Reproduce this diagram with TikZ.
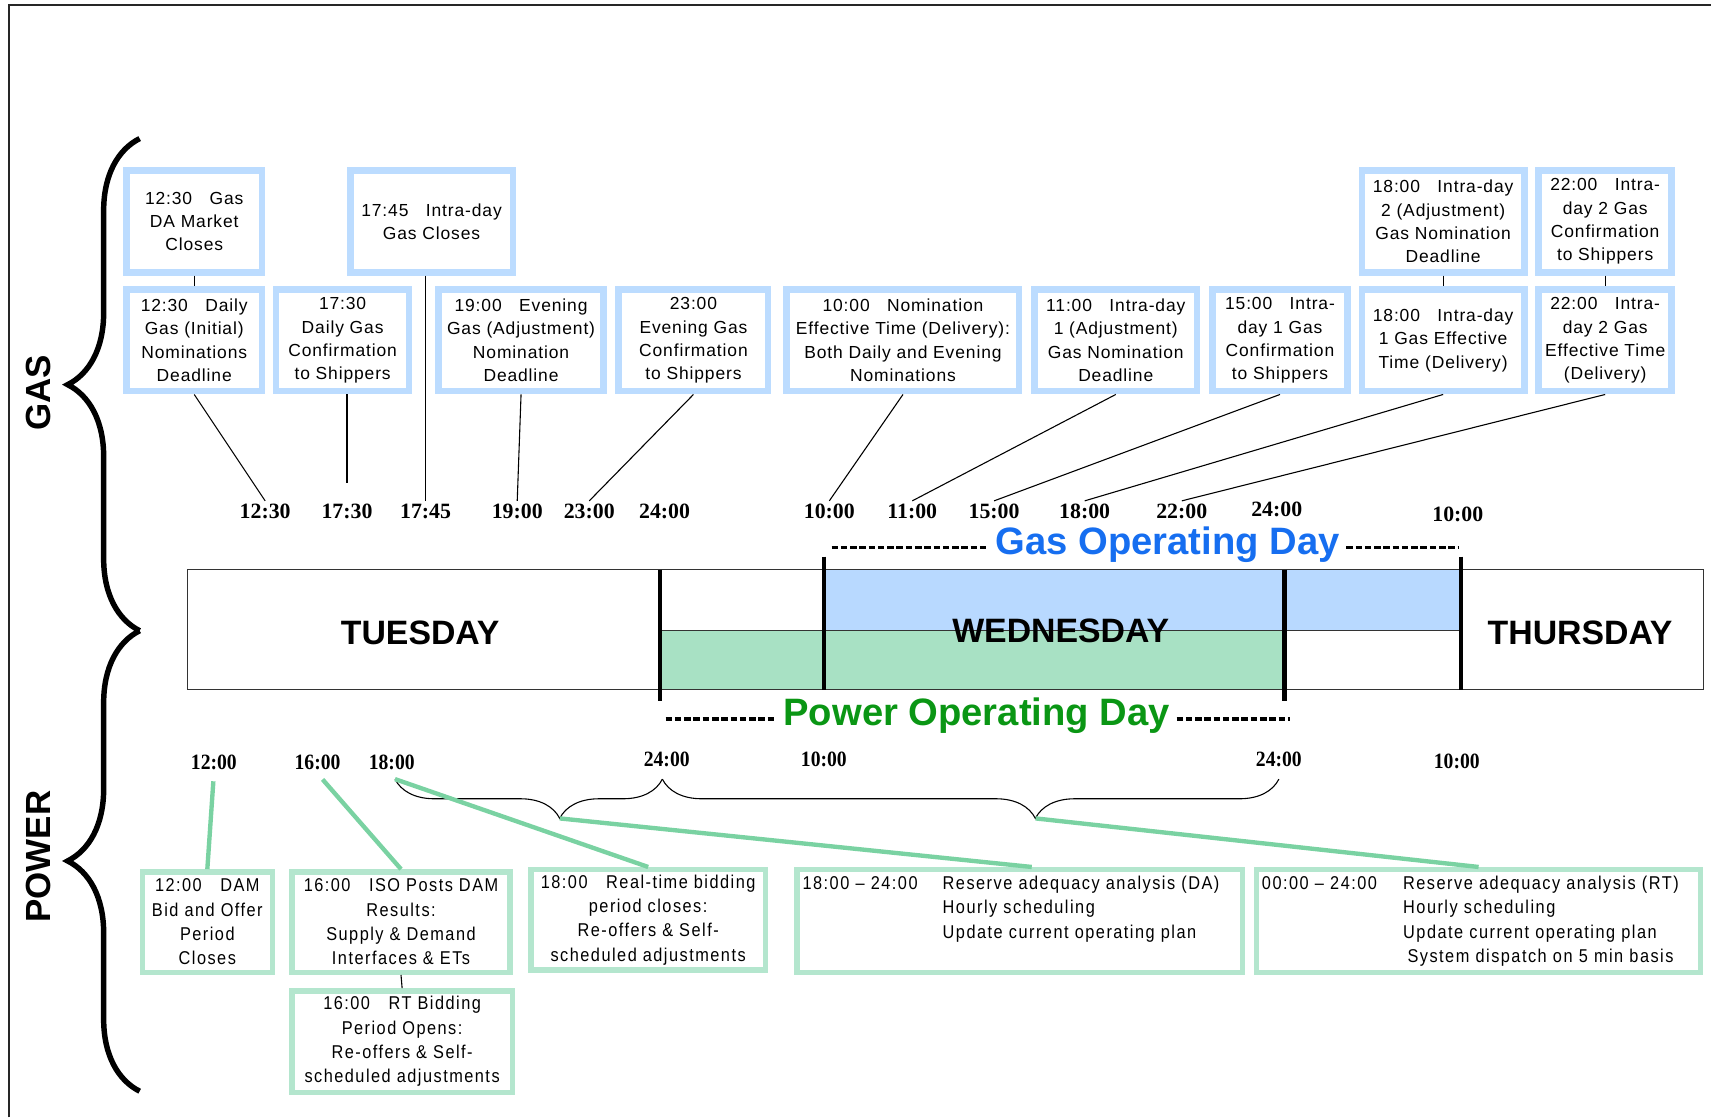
\documentclass[tikz,border=0pt]{standalone}
\usepackage{fontspec}
\setmainfont{Liberation Sans}
\newfontfamily\boxfont{Liberation Sans}[LetterSpace=5]
\newfontfamily\pwrfont{Liberation Sans}[FakeStretch=0.88,LetterSpace=8]
\newfontfamily\timefont{Liberation Serif}
\newfontfamily\ptimefont{Liberation Serif}[FakeStretch=0.9]
\usetikzlibrary{calc,positioning,decorations.pathreplacing}

\definecolor{gasblue}{RGB}{188,220,255}
\definecolor{barblue}{RGB}{184,217,255}
\definecolor{pwrgreen}{RGB}{180,230,206}
\definecolor{bargreen}{RGB}{168,225,196}
\definecolor{pwrline}{RGB}{122,210,162}
\definecolor{gastext}{RGB}{22,110,240}
\definecolor{pwrtext}{RGB}{10,150,20}

\tikzset{
  gasbox/.style={draw=gasblue, line width=6pt, align=center, inner sep=2pt,
    minimum width=#1, minimum height=93pt,
    font=\boxfont\fontsize{16}{21.5}\selectfont},
  pwrbox/.style={draw=pwrgreen, line width=5pt, align=center, inner sep=2pt,
    minimum width=#1, minimum height=92pt,
    font=\pwrfont\fontsize{17}{22.3}\selectfont},
  gastime/.style={inner sep=3pt, font=\timefont\bfseries\fontsize{20}{20}\selectfont},
  pwrtime/.style={inner sep=3pt, font=\ptimefont\bfseries\fontsize{20}{20}\selectfont},
  gasline/.style={line width=1pt, black},
  pwrlink/.style={line width=4pt, pwrline},
  dayline/.style={line width=4pt, black},
  opdash/.style={line width=3pt, dash pattern=on 6pt off 2.5pt},
  bigbrace/.style={decorate, decoration={brace, amplitude=66pt}, line width=5pt},
  smallbrace/.style={decorate, decoration={brace, mirror, amplitude=36pt, aspect=#1}, line width=1pt},
  dayname/.style={font=\bfseries\fontsize{31}{31}\selectfont},
  sidename/.style={rotate=90, font=\bfseries\fontsize{32}{32}\selectfont},
}

\begin{document}
\begin{tikzpicture}[x=1pt, y=-1pt]
    \useasboundingbox (0,0) rectangle (1568,1024);
    \draw[line width=1.8pt, black!85] (8,1024) -- (8,5) -- (1568,5);

    % gas / power braces
    \coordinate (gastop) at (128,127);
    \coordinate (mid) at (128,578);
    \coordinate (pwrbot) at (128,1000);
    \draw[bigbrace] (mid) -- (gastop);
    \draw[bigbrace] (pwrbot) -- (mid);
    \node[sidename] (gaslbl) at (35,360) {GAS};
    \node[sidename] (pwrlbl) at (35,785) {POWER};

    % day bar
    \fill[barblue] (755,522) rectangle (1339,578);
    \fill[bargreen] (605,578) rectangle (1177,632);
    \draw[line width=1.2pt, black!80] (172,522) rectangle (1561,632);
    \draw[line width=1.2pt, black!80] (605,578) -- (1339,578);
    \draw[dayline] (605,522) -- (605,642);
    \draw[dayline] (755,510) -- (755,632);
    \draw[dayline] (1177,522) -- (1177,642);
    \draw[dayline] (1339,510) -- (1339,632);
    \node[dayname] (tue) at (385,580) {TUESDAY};
    \node[dayname] (wed) at (972,578) {WEDNESDAY};
    \node[dayname] (thu) at (1448,580) {THURSDAY};

    % operating days
    \node[inner sep=6pt, text=gastext, font=\bfseries\fontsize{35}{35}\selectfont] (gasday) at (1070,499) {Gas Operating Day};
    \node[inner sep=6pt, text=pwrtext, font=\bfseries\fontsize{35}{35}\selectfont] (pwrday) at (895,656) {Power Operating Day};
    \coordinate (gdl) at (762,502);
    \coordinate (gdr) at (1337,502);
    \coordinate (pdl) at (610,659);
    \coordinate (pdr) at (1182,659);
    \draw[opdash] (gdl) -- (gasday.west |- gdl);
    \draw[opdash] (gasday.east |- gdr) -- (gdr);
    \draw[opdash] (pdl) -- (pwrday.west |- pdl);
    \draw[opdash] (pwrday.east |- pdr) -- (pdr);

    % gas events
    \node[gasbox=124pt] (ga) at (178,203) {12:30\quad Gas\\DA Market\\Closes};
    \node[gasbox=149pt] (gb) at (395.5,203) {17:45\quad Intra-day\\Gas Closes};
    \node[gasbox=149pt] (gc) at (1322.5,203) {18:00\quad Intra-day\\2 (Adjustment)\\Gas Nomination\\Deadline};
    \node[gasbox=122pt] (gd) at (1471,203) {22:00\quad Intra-\\day 2 Gas\\Confirmation\\to Shippers};
    \node[gasbox=124pt] (g1) at (178,312) {12:30\quad Daily\\Gas (Initial)\\Nominations\\Deadline};
    \node[gasbox=122pt] (g2) at (314,312) {17:30\\Daily Gas\\Confirmation\\to Shippers};
    \node[gasbox=151pt] (g3) at (477.5,312) {19:00\quad Evening\\Gas (Adjustment)\\Nomination\\Deadline};
    \node[gasbox=137pt] (g4) at (635.5,312) {23:00\\Evening Gas\\Confirmation\\to Shippers};
    \node[gasbox=213pt] (g5) at (827.5,312) {10:00\quad Nomination\\Effective Time (Delivery):\\Both Daily and Evening\\Nominations};
    \node[gasbox=149pt] (g6) at (1022.5,312) {11:00\quad Intra-day\\1 (Adjustment)\\Gas Nomination\\Deadline};
    \node[gasbox=124pt] (g7) at (1173,312) {15:00\quad Intra-\\day 1 Gas\\Confirmation\\to Shippers};
    \node[gasbox=149pt] (g8) at (1322.5,312) {18:00\quad Intra-day\\1 Gas Effective\\Time (Delivery)};
    \node[gasbox=122pt] (g9) at (1471,312) {22:00\quad Intra-\\day 2 Gas\\Effective Time\\(Delivery)};

    \foreach \n/\x/\y/\t in {t1230/243/469/12:30, t1730/318/469/17:30, t1745/390/469/17:45,
        t1900/474/469/19:00, t2300/540/469/23:00, t2400/609/469/24:00,
        t1000/760/469/10:00, t1100/836/469/11:00, t1500/911/469/15:00,
        t1800/994/469/18:00, t2200/1083/469/22:00, t2400b/1170/467/24:00,
        t1000b/1336/471/10:00}
        \node[gastime] (\n) at (\x,\y) {\t};

    \draw[gasline] (ga.south) -- (g1.north);
    \draw[gasline] (gc.south) -- (g8.north);
    \draw[gasline] (gd.south) -- (g9.north);
    \draw[gasline] (g1.south) -- (t1230.north);
    \draw[gasline, shorten >=16pt] (g2.south -| t1730.north) -- (t1730.north);
    \draw[gasline] (gb.south -| t1745.north) -- (t1745.north);
    \draw[gasline] (g3.south) -- (t1900.north);
    \draw[gasline] (g4.south) -- (t2300.north);
    \draw[gasline] (g5.south) -- (t1000.north);
    \draw[gasline] (g6.south) -- (t1100.north);
    \draw[gasline] (g7.south) -- (t1500.north);
    \draw[gasline] (g8.south) -- (t1800.north);
    \draw[gasline] (g9.south) -- (t2200.north);

    % power events
    \foreach \n/\x/\y/\t in {p1200/196/699/12:00, p1600/291/699/16:00, p1800/359/699/18:00,
        p2400/611/696/24:00, p1000/755/696/10:00, p2400b/1172/696/24:00,
        p1000b/1335/698/10:00}
        \node[pwrtime] (\n) at (\x,\y) {\t};

    \node[pwrbox=119pt] (pa) at (190,845) {12:00\quad DAM\\Bid and Offer\\Period\\Closes};
    \node[pwrbox=200pt] (pb) at (367.5,845) {16:00\quad ISO Posts DAM\\Results:\\Supply \& Demand\\Interfaces \& ETs};
    \node[pwrbox=202pt, minimum height=93pt] (pc) at (368.5,954.5) {16:00\quad RT Bidding\\Period Opens:\\Re-offers \& Self-\\scheduled adjustments};
    \node[pwrbox=215pt] (pd) at (594,843) {18:00\quad Real-time bidding\\period closes:\\Re-offers \& Self-\\scheduled adjustments};
    \node[pwrbox=408pt, minimum height=94pt, align=left, text width=398pt] (pe) at (934.5,844)
        {\begin{tabular}{@{}l@{\hspace{23pt}}l@{}}
         18:00 – 24:00 & Reserve adequacy analysis (DA)\\
         & Hourly scheduling\\
         & Update current operating plan\\
         &
         \end{tabular}};
    \node[pwrbox=407pt, minimum height=94pt, align=left, text width=397pt] (pf) at (1355,844)
        {\begin{tabular}{@{}l@{\hspace{24pt}}l@{}}
         00:00 – 24:00 & Reserve adequacy analysis (RT)\\
         & Hourly scheduling\\
         & Update current operating plan\\
         & \hspace{4pt}System dispatch on 5 min basis
         \end{tabular}};

    \coordinate (br1) at (362,714);
    \coordinate (br2) at (607,714);
    \coordinate (br3) at (1172,714);
    \coordinate (cusp1) at (513,750);
    \coordinate (cusp2) at (949,750);
    \draw[smallbrace=0.616] (br1) -- (br2);
    \draw[smallbrace=0.605] (br2) -- (br3);

    \draw[gasline] (pb.south) -- (pc.north);
    \draw[pwrlink, shorten <=7pt] (p1200.south) -- (pa.north);
    \draw[pwrlink, shorten <=7pt] (p1600.south) -- (pb.north);
    \draw[pwrlink] (br1) -- (pd.north);
    \draw[pwrlink] (cusp1) -- ([xshift=11pt]pe.north);
    \draw[pwrlink] (cusp2) -- (pf.north);
\end{tikzpicture}
\end{document}
